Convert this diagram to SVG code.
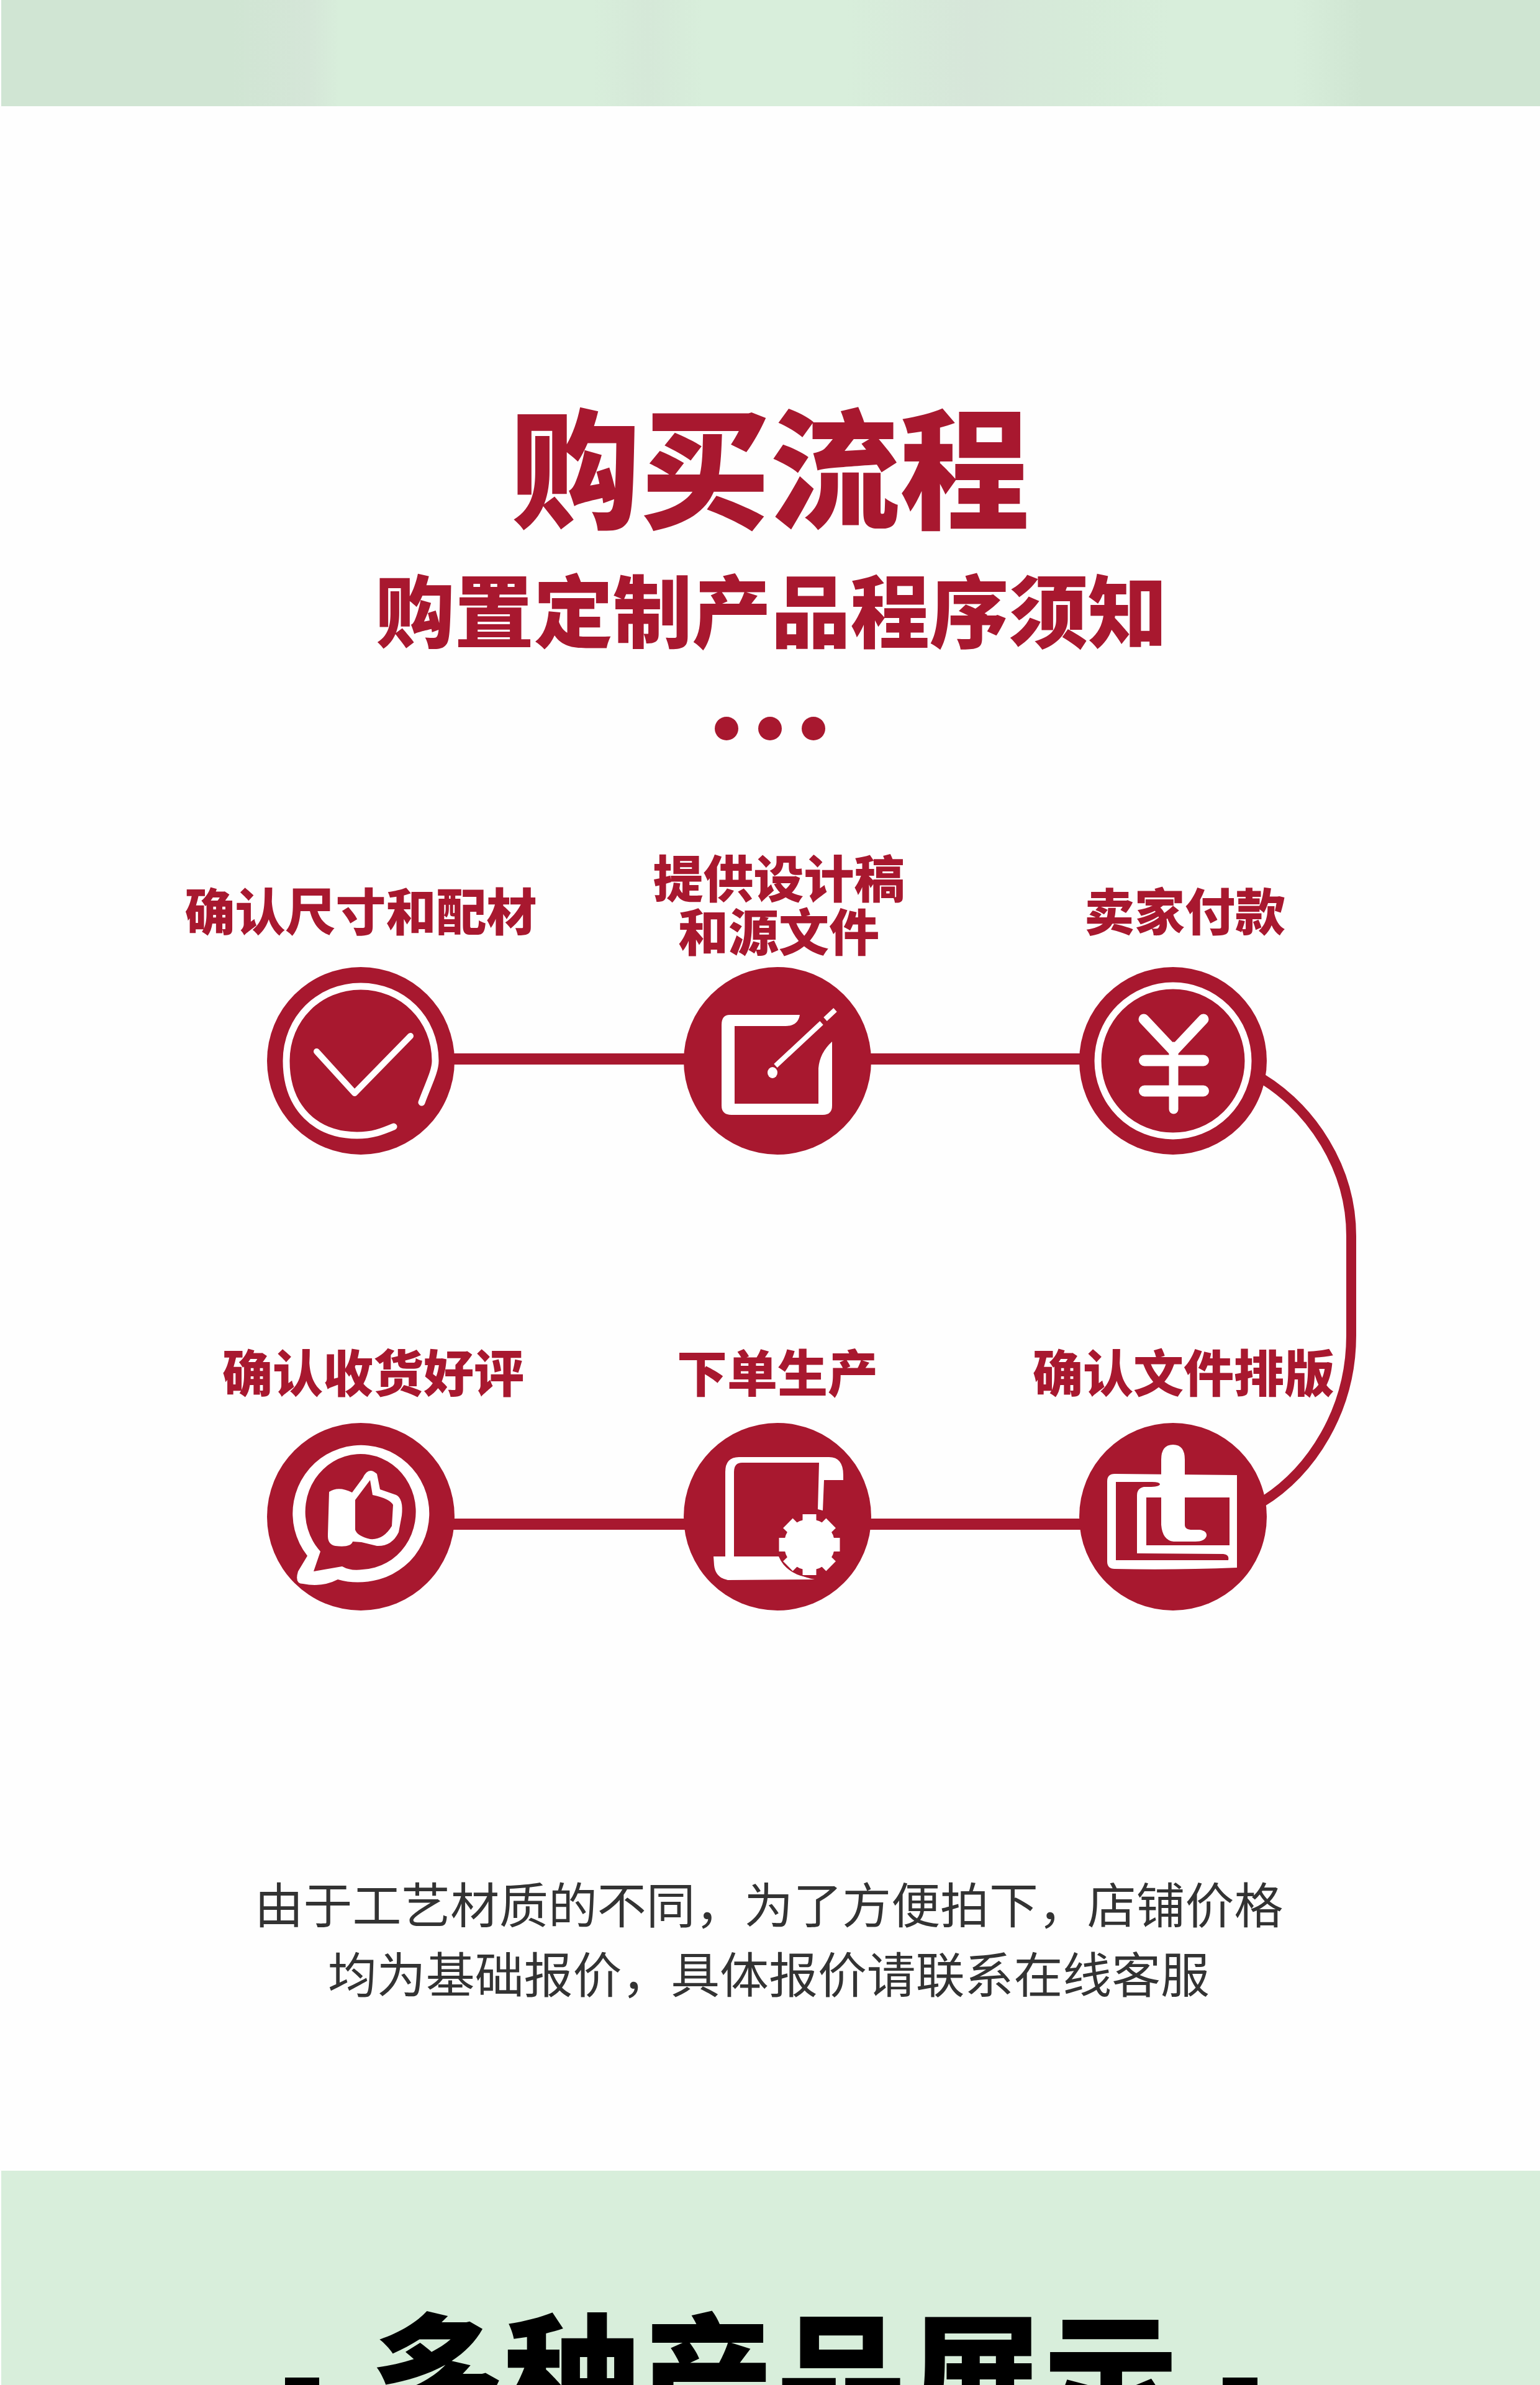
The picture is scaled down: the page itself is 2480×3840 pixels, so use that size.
<svg xmlns="http://www.w3.org/2000/svg" width="2480" height="3840" viewBox="0 0 2480 3840">
<style>
text{font-family:"Noto Sans CJK SC","Noto Sans",sans-serif;text-anchor:middle}
.t{fill:#a8182f;font-weight:900}
.l{fill:#a8182f;font-weight:900;font-size:81px}
.b{fill:#333;font-weight:400;font-size:78.9px}
.n{fill:#a8182f}
.w{fill:#fff}
.s{fill:none;stroke:#fff;stroke-linecap:round;stroke-linejoin:round}
.c{fill:none;stroke:#a8182f}
</style>
<defs>
<linearGradient id="g" x1="0" x2="1" y1="0" y2="0">
<stop offset="0" stop-color="#d0e5d3"/><stop offset=".15" stop-color="#d0e5d3"/><stop offset=".2" stop-color="#d5e6d8"/><stop offset=".22" stop-color="#d8eedb"/><stop offset=".385" stop-color="#d8eedb"/><stop offset=".42" stop-color="#d5e8d8"/><stop offset=".455" stop-color="#d8eedb"/><stop offset=".55" stop-color="#d8eedb"/><stop offset=".63" stop-color="#d6e6d9"/><stop offset=".7" stop-color="#d6ebd9"/><stop offset=".76" stop-color="#d8eedb"/><stop offset=".84" stop-color="#d8eedb"/><stop offset=".885" stop-color="#cfe5d2"/><stop offset="1" stop-color="#cfe5d2"/>
</linearGradient>
<rect id="tooth" x="-11" y="-49" width="22" height="12" fill="#fff"/>
</defs>
<rect width="2480" height="3840" fill="#fefefe"/>
<rect id="band-top" x="2" y="0" width="2478" height="171" fill="url(#g)"/>
<rect id="band-bottom" x="2" y="3495" width="2478" height="345" fill="#d8eedb"/>
<text class="t" x="1240" y="835" font-size="209">购买流程</text>
<text class="t" x="1242" y="1033" font-size="127.5">购置定制产品程序须知</text>
<g id="dots" class="n"><circle cx="1170" cy="1173" r="19"/><circle cx="1240" cy="1173" r="19"/><circle cx="1310" cy="1173" r="19"/></g>
<g id="connectors">
<path class="c" stroke-width="18" d="M700,1705H1120M1390,1705H1760M700,2454H1120M1390,2454H1760"/>
<path class="c" stroke-width="16" d="M2030,1735C2112,1785 2176,1880 2176,1990V2150C2176,2270 2112,2370 2030,2420"/>
</g>
<g id="node-1">
<text class="l" x="581" y="1498">确认尺寸和配材</text>
<circle class="n" cx="581" cy="1708" r="151"/>
<path class="s" stroke-width="11" d="M679,1775C690,1745 701,1725 701,1708C701,1640 648,1588 581,1588C514,1588 461,1640 461,1708C461,1785 510,1828 575,1828C600,1828 615,1822 634,1814"/>
<path class="s" stroke-width="10" d="M510,1693L571,1760L661,1668"/>
</g>
<g id="node-2">
<text class="l" x="1254" y="1445">提供设计稿<tspan x="1254" dy="86">和源文件</tspan></text>
<circle class="n" cx="1252" cy="1708" r="151"/>
<path class="w" d="M1288,1634L1175,1634Q1162,1634 1162,1650L1162,1780Q1162,1795 1178,1795L1325,1795Q1340,1795 1340,1780L1340,1677Q1320,1695 1318,1720L1318,1777L1183,1777L1183,1652L1265,1652Q1285,1652 1288,1634Z"/>
<ellipse class="w" cx="1244" cy="1727" rx="8" ry="9"/>
<path stroke="#fff" stroke-width="8" fill="none" d="M1249,1716L1323,1647M1329,1641L1345,1626"/>
</g>
<g id="node-3">
<text class="l" x="1908" y="1498">卖家付款</text>
<circle class="n" cx="1889" cy="1708" r="151"/>
<circle cx="1889" cy="1708" r="121" fill="none" stroke="#fff" stroke-width="11"/>
<path class="s" stroke-width="17" d="M1842,1641L1890,1692L1938,1641"/>
<path class="s" stroke-width="15" d="M1890,1685V1786"/>
<path class="s" stroke-width="18" d="M1843,1707.5H1938M1843,1756.5H1938"/>
</g>
<g id="node-4">
<text class="l" x="601" y="2241">确认收货好评</text>
<circle class="n" cx="581" cy="2442" r="151"/>
<path class="w" fill-rule="evenodd" d="M495,2505A110,110 0 1 1 610,2543Q575,2552 544,2543Q519,2556 488,2550Q474,2550 480,2530ZM516,2498L505,2530L551,2522Q565,2530 584,2527A89,93 0 1 0 516,2498Z"/>
<path class="w" fill-rule="evenodd" d="M530,2402Q545,2392 567,2403L584,2380Q593,2360 607,2373L612,2398L638,2407Q650,2413 647,2440L642,2467Q631,2490 607,2489L582,2483L568,2482Q565,2492 540,2489Q527,2487 528,2470ZM572,2415L596,2383L600,2407Q628,2413 633,2423L631,2457Q617,2480 596,2478Q575,2473 572,2463Z"/>
</g>
<g id="node-5">
<text class="l" x="1252" y="2241">下单生产</text>
<circle class="n" cx="1252" cy="2442" r="151"/>
<path class="w" d="M1168,2507L1168,2370Q1168,2346 1190,2346L1335,2346Q1358,2346 1358,2375L1358,2383L1327,2383L1325,2432L1317,2430L1319,2355L1195,2355Q1182,2355 1182,2370L1182,2507Z"/>
<path class="w" d="M1149,2506L1254,2506Q1262,2525 1280,2532Q1295,2540 1312,2543L1172,2544Q1152,2540 1150,2520Z"/>
<g transform="translate(1303.5 2487)">
<circle class="n" r="52"/>
<circle class="w" r="41"/>
<use href="#tooth"/><use href="#tooth" transform="rotate(45)"/><use href="#tooth" transform="rotate(90)"/><use href="#tooth" transform="rotate(135)"/><use href="#tooth" transform="rotate(180)"/><use href="#tooth" transform="rotate(225)"/><use href="#tooth" transform="rotate(270)"/><use href="#tooth" transform="rotate(315)"/>
</g>
</g>
<g id="node-6">
<text class="l" x="1906" y="2241">确认文件排版</text>
<circle class="n" cx="1889" cy="2442" r="151"/>
<path class="w" d="M1795,2373L1992,2375V2524Q1890,2528 1795,2526Q1783,2526 1783,2514V2385Q1783,2373 1795,2373Z"/>
<path class="n" d="M1797,2386H1855Q1868,2386 1868,2390Q1866,2394 1850,2394L1842,2394Q1831,2396 1831,2408V2501L1970,2502Q1980,2503 1978,2512H1797Z"/>
<path class="n" d="M1846,2411H1980V2488H1846Z"/>
<path class="w" d="M1870,2350Q1870,2326 1889,2326Q1908,2326 1908,2350L1908,2455Q1908,2463 1920,2463L1932,2463Q1944,2465 1943,2473Q1940,2482 1925,2482L1890,2482Q1872,2480 1870,2455Z"/>
</g>
<text class="b" x="1238" y="3097">由于工艺材质的不同，为了方便拍下，店铺价格</text>
<text class="b" x="1238" y="3209">均为基础报价，具体报价请联系在线客服</text>
<text x="1246" y="3908" font-size="217" font-weight="900" fill="#000">多种产品展示</text>
<rect x="459" y="3828" width="55" height="12" fill="#000"/>
<rect x="1969" y="3828" width="56" height="12" fill="#000"/>
</svg>
